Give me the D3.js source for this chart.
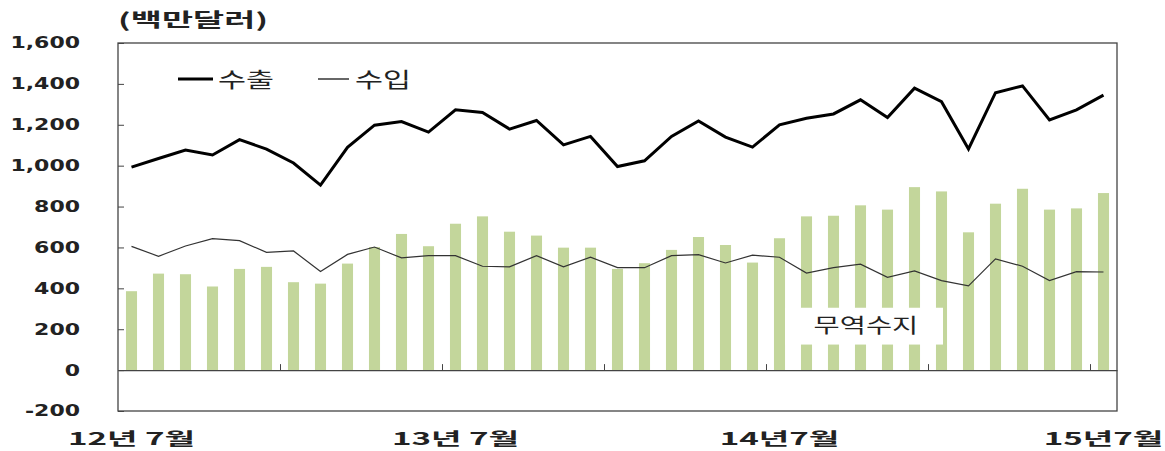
<!DOCTYPE html>
<html>
<head>
<meta charset="utf-8">
<script src="https://cdn.jsdelivr.net/npm/d3@7"></script>
<style>
	body { margin: 0; background: #fff; }
	svg { display: block; }
	text { font-family: 'Noto Sans CJK KR', 'DejaVu Sans', sans-serif; fill: #222; }
</style>
</head>
<body>
<script>

// 월 (12년 7월 ~ 15년 7월, 37개월)
const months = []
for ( let i = 0; i < 37; i++ ) {
	const m = ( 6 + i ) % 12 + 1,
		y = 12 + Math.floor( ( 6 + i ) / 12 )
	months.push( `${ y }.${ m }` )
}

// 수출 (백만달러)
const exportsData = [ 993, 1035, 1076, 1052, 1127, 1081, 1013, 905, 1090, 1198,
	1216, 1164, 1273, 1260, 1179, 1221, 1102, 1143, 996, 1024,
	1143, 1219, 1140, 1091, 1200, 1232, 1253, 1322, 1235, 1379,
	1313, 1082, 1357, 1390, 1224, 1273, 1345 ]

// 수입 (백만달러)
const importsData = [ 605, 557, 607, 643, 633, 576, 583, 482, 566, 602,
	549, 560, 560, 508, 505, 560, 505, 552, 501, 501,
	560, 565, 524, 562, 552, 475, 501, 518, 454, 485,
	438, 412, 544, 508, 438, 482, 480 ]

// 무역수지 (백만달러)
const balanceData = [ 386, 472, 469, 409, 495, 505, 430, 423, 521, 602,
	666, 606, 716, 752, 677, 658, 599, 599, 495, 523,
	588, 651, 612, 526, 645, 752, 755, 806, 785, 895,
	874, 674, 814, 887, 785, 791, 866 ]

const yTicks = [ -200, 0, 200, 400, 600, 800, 1000, 1200, 1400, 1600 ]

// x 라벨
const xLabelMonths = [ '12.7', '13.7', '14.7', '15.7' ],
	xLabelTexts = [ '12년 7월', '13년 7월', '14년7월', '15년7월' ]

const width = 1165,
	height = 451,
	plotLeft = 118,
	plotRight = 1117,
	plotTop = 43,
	plotBottom = 411

const svg = d3.select( 'body' )
	.append( 'svg' )
	.attr( 'width', width )
	.attr( 'height', height )

const x = d3.scaleBand()
		.domain( months )
		.range( [ plotLeft, plotRight ] ),

	xIdx = d3.scaleLinear() // 경계 눈금용
		.domain( [ 0, months.length ] )
		.range( [ plotLeft, plotRight ] ),

	y = d3.scaleLinear()
		.domain( [ -200, 1600 ] )
		.range( [ plotBottom, plotTop ] )

// 글자를 옆으로 늘림 (원본 이미지가 가로로 늘어나 있음)
function stretch( sel, k ) {
	sel.each( function() {
		const w = this.getComputedTextLength()
		d3.select( this )
			.attr( 'textLength', w * k )
			.attr( 'lengthAdjust', 'spacingAndGlyphs' )
	})
}

// 무역수지 막대
const barW = x.bandwidth() * 0.41

svg.append( 'g' )
	.selectAll( 'rect' )
	.data( balanceData )
	.enter()
	.append( 'rect' )
	.attr( 'x', ( d, i ) => x( months[ i ] ) + ( x.bandwidth() - barW ) / 2 )
	.attr( 'y', d => y( Math.max( d, 0 ) ) )
	.attr( 'width', barW )
	.attr( 'height', d => Math.abs( y( d ) - y( 0 ) ) )
	.attr( 'fill', '#c3d69b' )

// 0 선 + 6개월 눈금
svg.append( 'g' )
	.attr( 'transform', `translate( 0, ${ y( 0 ) } )` )
	.call( d3.axisTop( xIdx )
		.tickValues( d3.range( 6, months.length, 6 ) )
		.tickSize( 6 )
		.tickSizeOuter( 0 )
		.tickFormat( '' ) )
	.call( g => g.select( '.domain' ).attr( 'stroke', '#444' ).attr( 'stroke-width', 1.3 ) )
	.call( g => g.selectAll( '.tick line' ).attr( 'stroke', '#444' ) )

// 수입 (가는 선)
const line = d3.line()
	.x( ( d, i ) => x( months[ i ] ) + x.bandwidth() / 2 )
	.y( d => y( d ) )

svg.append( 'path' )
	.datum( importsData )
	.attr( 'd', line )
	.attr( 'fill', 'none' )
	.attr( 'stroke', '#333' )
	.attr( 'stroke-width', 1.2 )

// 수출 (굵은 선)
svg.append( 'path' )
	.datum( exportsData )
	.attr( 'd', line )
	.attr( 'fill', 'none' )
	.attr( 'stroke', '#000' )
	.attr( 'stroke-width', 3 )
	.attr( 'stroke-linejoin', 'miter' )

// 무역수지 라벨 (흰 박스)
const balLabelX = x( months[ 27 ] ) + x.bandwidth() * 0.7
svg.append( 'rect' )
	.attr( 'x', x( months[ 25 ] ) - 8 )
	.attr( 'y', y( 305 ) )
	.attr( 'width', x( months[ 31 ] ) - x( months[ 25 ] ) - 4 )
	.attr( 'height', y( 125 ) - y( 305 ) )
	.attr( 'fill', '#fff' )

svg.append( 'text' )
	.attr( 'x', balLabelX )
	.attr( 'y', y( 215 ) )
	.attr( 'dy', '0.36em' )
	.attr( 'text-anchor', 'middle' )
	.style( 'font-size', '20px' )
	.text( '무역수지' )
	.call( stretch, 1.42 )

// 테두리
svg.append( 'rect' )
	.attr( 'x', plotLeft )
	.attr( 'y', plotTop )
	.attr( 'width', plotRight - plotLeft )
	.attr( 'height', plotBottom - plotTop )
	.attr( 'fill', 'none' )
	.attr( 'stroke', '#444' )
	.attr( 'stroke-width', 1.3 )

// y 축
const yAxis = svg.append( 'g' )
	.attr( 'transform', `translate( ${ plotLeft }, 0 )` )
	.call( d3.axisLeft( y )
		.tickValues( yTicks )
		.tickSize( -6 )
		.tickSizeOuter( 0 )
		.tickPadding( 38 )
		.tickFormat( d => d3.format( ',' )( d ).replace( '−', '-' ) ) )

yAxis.select( '.domain' ).remove()
yAxis.selectAll( '.tick line' ).attr( 'stroke', '#444' )
yAxis.selectAll( '.tick text' )
	.style( 'font-family', 'DejaVu Sans' )
	.style( 'font-weight', 'bold' )
	.style( 'font-size', '15.5px' )
	.attr( 'fill', '#222' )
	.call( stretch, 1.42 )

// x 라벨
const xLab = svg.append( 'g' )
	.attr( 'transform', `translate( 0, ${ plotBottom } )` )
	.call( d3.axisBottom( x )
		.tickValues( xLabelMonths )
		.tickSize( 0 )
		.tickPadding( 34 )
		.tickFormat( d => xLabelTexts[ xLabelMonths.indexOf( d ) ] ) )

xLab.select( '.domain' ).remove()
xLab.selectAll( '.tick text' )
	.style( 'font-family', "'Noto Sans CJK KR', sans-serif" )
	.style( 'font-weight', 'bold' )
	.style( 'font-size', '17px' )
	.attr( 'fill', '#222' )
	.attr( 'dy', '0' )
	.call( stretch, 1.95 )

// 단위
svg.append( 'text' )
	.attr( 'x', plotLeft )
	.attr( 'y', 27 )
	.style( 'font-size', '19px' )
	.style( 'font-weight', 'bold' )
	.text( '(백만달러)' )
	.call( stretch, 1.78 )

// 범례
const legend = [
	{ name: '수출', w: 3, x: 178 },
	{ name: '수입', w: 1.2, x: 318 }
]

const item = svg.selectAll( '.legend' )
	.data( legend )
	.enter()
	.append( 'g' )
	.attr( 'class', 'legend' )
	.attr( 'transform', d => `translate( ${ d.x }, 79 )` )

item.append( 'line' )
	.attr( 'x1', 0 )
	.attr( 'x2', d => d.w > 2 ? 35 : 31 )
	.attr( 'stroke', '#000' )
	.attr( 'stroke-width', d => d.w )

item.append( 'text' )
	.attr( 'x', d => d.w > 2 ? 40 : 37 )
	.attr( 'dy', '0.36em' )
	.style( 'font-size', '21px' )
	.text( d => d.name )
	.call( stretch, 1.45 )

</script>
</body>
</html>
